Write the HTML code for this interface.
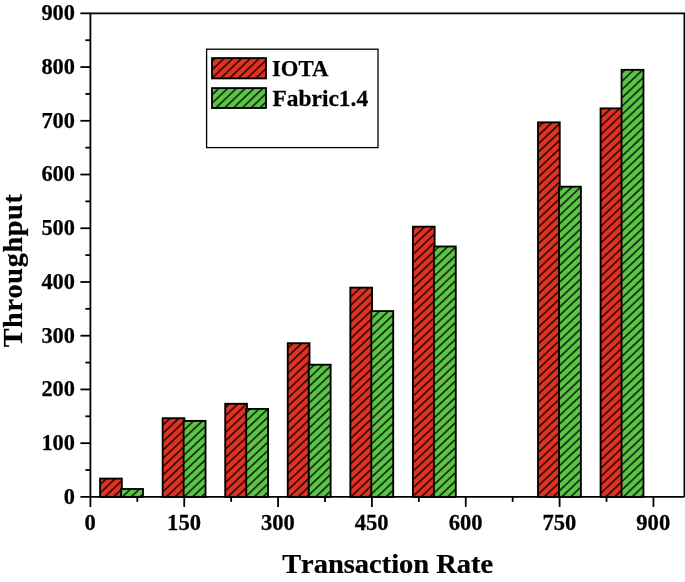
<!DOCTYPE html>
<html><head><meta charset="utf-8"><title>Throughput vs Transaction Rate</title>
<style>html,body{margin:0;padding:0;background:#fff}svg{display:block}</style></head>
<body>
<svg width="685" height="582" viewBox="0 0 685 582">
<defs>
<pattern id="hr" width="6.05" height="6.05" patternUnits="userSpaceOnUse" patternTransform="rotate(-43.5)">
<rect width="6.05" height="6.05" fill="#e23222"/><line x1="0" y1="3" x2="6.05" y2="3" stroke="#000" stroke-width="1.35"/></pattern>
<pattern id="hg" width="6.05" height="6.05" patternUnits="userSpaceOnUse" patternTransform="rotate(-43.5)">
<rect width="6.05" height="6.05" fill="#5bc546"/><line x1="0" y1="3" x2="6.05" y2="3" stroke="#000" stroke-width="1.35"/></pattern>
</defs>
<rect width="685" height="582" fill="#fff"/>
<rect x="100.08" y="478.58" width="21.75" height="18.32" fill="url(#hr)" stroke="#000" stroke-width="1.85"/>
<rect x="121.08" y="488.98" width="21.90" height="7.92" fill="url(#hg)" stroke="#000" stroke-width="1.85"/>
<rect x="162.64" y="418.22" width="21.75" height="78.68" fill="url(#hr)" stroke="#000" stroke-width="1.85"/>
<rect x="183.64" y="420.90" width="21.90" height="76.00" fill="url(#hg)" stroke="#000" stroke-width="1.85"/>
<rect x="225.20" y="403.76" width="21.75" height="93.14" fill="url(#hr)" stroke="#000" stroke-width="1.85"/>
<rect x="246.20" y="408.92" width="21.90" height="87.98" fill="url(#hg)" stroke="#000" stroke-width="1.85"/>
<rect x="287.76" y="343.21" width="21.75" height="153.69" fill="url(#hr)" stroke="#000" stroke-width="1.85"/>
<rect x="308.76" y="364.70" width="21.90" height="132.20" fill="url(#hg)" stroke="#000" stroke-width="1.85"/>
<rect x="350.32" y="287.63" width="21.75" height="209.27" fill="url(#hr)" stroke="#000" stroke-width="1.85"/>
<rect x="371.32" y="311.08" width="21.90" height="185.82" fill="url(#hg)" stroke="#000" stroke-width="1.85"/>
<rect x="412.88" y="226.67" width="21.75" height="270.23" fill="url(#hr)" stroke="#000" stroke-width="1.85"/>
<rect x="433.88" y="246.50" width="21.90" height="250.40" fill="url(#hg)" stroke="#000" stroke-width="1.85"/>
<rect x="538.00" y="122.35" width="21.75" height="374.55" fill="url(#hr)" stroke="#000" stroke-width="1.85"/>
<rect x="559.00" y="186.69" width="21.90" height="310.21" fill="url(#hg)" stroke="#000" stroke-width="1.85"/>
<rect x="600.56" y="108.36" width="21.75" height="388.54" fill="url(#hr)" stroke="#000" stroke-width="1.85"/>
<rect x="621.56" y="69.83" width="21.90" height="427.07" fill="url(#hg)" stroke="#000" stroke-width="1.85"/>
<g stroke="#000" stroke-width="1.8" fill="none">
<path d="M90.4 13.3 H685.4 M684.4 13.3 V496.9 M80.4 496.9 H684.4 M90.4 12.5 V506.9"/>
<line x1="85.4" y1="470.03" x2="90.4" y2="470.03"/>
<line x1="80.4" y1="443.17" x2="90.4" y2="443.17"/>
<line x1="85.4" y1="416.30" x2="90.4" y2="416.30"/>
<line x1="80.4" y1="389.44" x2="90.4" y2="389.44"/>
<line x1="85.4" y1="362.57" x2="90.4" y2="362.57"/>
<line x1="80.4" y1="335.71" x2="90.4" y2="335.71"/>
<line x1="85.4" y1="308.84" x2="90.4" y2="308.84"/>
<line x1="80.4" y1="281.98" x2="90.4" y2="281.98"/>
<line x1="85.4" y1="255.11" x2="90.4" y2="255.11"/>
<line x1="80.4" y1="228.25" x2="90.4" y2="228.25"/>
<line x1="85.4" y1="201.38" x2="90.4" y2="201.38"/>
<line x1="80.4" y1="174.52" x2="90.4" y2="174.52"/>
<line x1="85.4" y1="147.65" x2="90.4" y2="147.65"/>
<line x1="80.4" y1="120.79" x2="90.4" y2="120.79"/>
<line x1="85.4" y1="93.92" x2="90.4" y2="93.92"/>
<line x1="80.4" y1="67.06" x2="90.4" y2="67.06"/>
<line x1="85.4" y1="40.19" x2="90.4" y2="40.19"/>
<line x1="80.4" y1="13.33" x2="90.4" y2="13.33"/>
<line x1="137.32" y1="496.9" x2="137.32" y2="501.9"/>
<line x1="184.24" y1="496.9" x2="184.24" y2="506.9"/>
<line x1="231.16" y1="496.9" x2="231.16" y2="501.9"/>
<line x1="278.08" y1="496.9" x2="278.08" y2="506.9"/>
<line x1="325.00" y1="496.9" x2="325.00" y2="501.9"/>
<line x1="371.92" y1="496.9" x2="371.92" y2="506.9"/>
<line x1="418.84" y1="496.9" x2="418.84" y2="501.9"/>
<line x1="465.76" y1="496.9" x2="465.76" y2="506.9"/>
<line x1="512.68" y1="496.9" x2="512.68" y2="501.9"/>
<line x1="559.60" y1="496.9" x2="559.60" y2="506.9"/>
<line x1="606.52" y1="496.9" x2="606.52" y2="501.9"/>
<line x1="653.44" y1="496.9" x2="653.44" y2="506.9"/>
</g>
<g font-family="'Liberation Serif', serif" font-weight="bold" fill="#000" stroke="#000" stroke-width="0.25" style="font-kerning:none">
<text transform="translate(75.00 503.70)" font-size="22.4" text-anchor="end">0</text>
<text transform="translate(75.00 449.97)" font-size="22.4" text-anchor="end">100</text>
<text transform="translate(75.00 396.24)" font-size="22.4" text-anchor="end">200</text>
<text transform="translate(75.00 342.51)" font-size="22.4" text-anchor="end">300</text>
<text transform="translate(75.00 288.78)" font-size="22.4" text-anchor="end">400</text>
<text transform="translate(75.00 235.05)" font-size="22.4" text-anchor="end">500</text>
<text transform="translate(75.00 181.32)" font-size="22.4" text-anchor="end">600</text>
<text transform="translate(75.00 127.59)" font-size="22.4" text-anchor="end">700</text>
<text transform="translate(75.00 73.86)" font-size="22.4" text-anchor="end">800</text>
<text transform="translate(75.00 20.13)" font-size="22.4" text-anchor="end">900</text>
<text transform="translate(90.20 530.30) scale(0.995 1)" font-size="22.7" text-anchor="middle">0</text>
<text transform="translate(184.04 530.30) scale(0.995 1)" font-size="22.7" text-anchor="middle">150</text>
<text transform="translate(277.88 530.30) scale(0.995 1)" font-size="22.7" text-anchor="middle">300</text>
<text transform="translate(371.72 530.30) scale(0.995 1)" font-size="22.7" text-anchor="middle">450</text>
<text transform="translate(465.56 530.30) scale(0.995 1)" font-size="22.7" text-anchor="middle">600</text>
<text transform="translate(559.40 530.30) scale(0.995 1)" font-size="22.7" text-anchor="middle">750</text>
<text transform="translate(653.24 530.30) scale(0.995 1)" font-size="22.7" text-anchor="middle">900</text>
<text transform="translate(387.60 572.90) scale(1.035 1)" font-size="27.5" text-anchor="middle">Transaction Rate</text>
<text transform="translate(22.40 270.45) rotate(-90) scale(1.035 1)" font-size="27.2" text-anchor="middle" letter-spacing="0.65">Throughput</text>
<rect x="206.6" y="49.2" width="171.4" height="98.4" fill="#fff" stroke="#000" stroke-width="1.3"/>
<rect x="212" y="58.1" width="54" height="20.3" fill="url(#hr)" stroke="#000" stroke-width="1.85"/>
<rect x="212" y="88.1" width="54" height="19.9" fill="url(#hg)" stroke="#000" stroke-width="1.85"/>
<text transform="translate(272.00 75.90)" font-size="22.7" text-anchor="start" style="font-kerning:normal">IOTA</text>
<text transform="translate(272.40 105.70) scale(1.034 1)" font-size="22.7" text-anchor="start">Fabric1.4</text>
</g>
</svg>
</body></html>
